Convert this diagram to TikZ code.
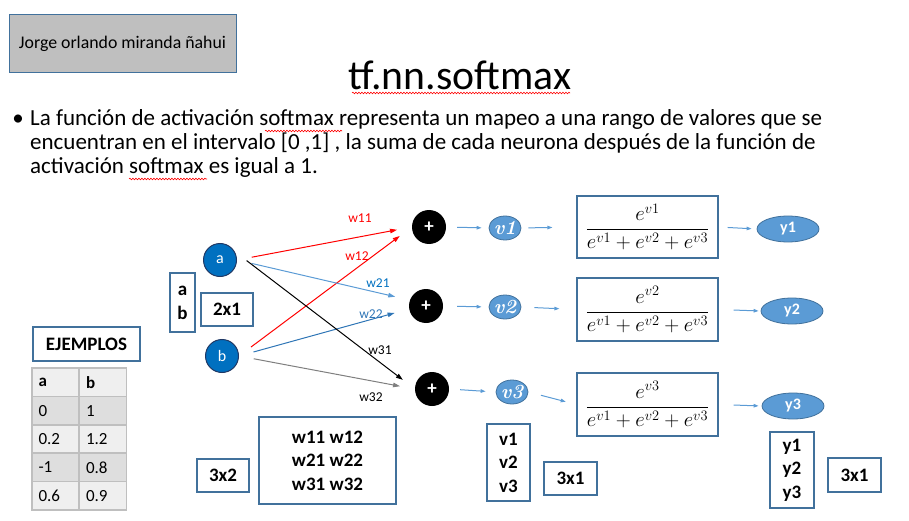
\documentclass[tikz,border=0pt]{standalone}
\usepackage[no-math]{fontspec}
\setmainfont{Carlito}
\newfontfamily\lmfont{Latin Modern Roman}
\usetikzlibrary{arrows.meta,shapes.geometric,decorations.pathmorphing}

\definecolor{boxline}{HTML}{41719C}
\definecolor{greyfill}{HTML}{BFBFBF}
\definecolor{nodeblue}{HTML}{0070C0}
\definecolor{darkrim}{HTML}{203864}
\definecolor{lightblue}{HTML}{5B9BD5}
\definecolor{midblue}{HTML}{2E75B6}
\definecolor{wred}{HTML}{FF0000}
\definecolor{wgrey}{HTML}{7F7F7F}
\definecolor{rowdark}{HTML}{DEDEDE}
\definecolor{rowlight}{HTML}{EFEFEF}
\definecolor{gridgrey}{HTML}{BFBFBF}

\tikzset{
  box/.style={draw=boxline, line width=1.2pt, inner sep=0pt, align=center,
    font=\fontsize{19}{23.5}\selectfont\bfseries},
  neuron/.style={circle, fill=nodeblue, draw=darkrim, line width=1pt,
    minimum size=33pt, inner sep=0pt, text=white, font=\fontsize{16}{16}\selectfont},
  sumnode/.style={circle, fill=black, minimum size=34pt, inner sep=0pt,
    text=white, font=\fontsize{19}{19}\selectfont\bfseries},
  oval/.style={ellipse, fill=lightblue, draw=boxline, line width=0.8pt,
    inner sep=0pt, text=white},
  vlabel/.style={oval, minimum width=32pt, minimum height=24pt,
    font=\lmfont\fontsize{20}{20}\selectfont\bfseries\itshape},
  ylabel/.style={oval, minimum width=62pt, minimum height=26pt,
    font=\fontsize{16}{16}\selectfont\bfseries},
  flow/.style={-{Triangle[length=5pt,width=3.5pt]}, draw=lightblue, line width=1pt},
  weight/.style={-{Triangle[length=7pt,width=4.5pt]}, line width=1pt,
    shorten <=15pt, shorten >=15pt},
  wlabel/.style={font=\fontsize{13.5}{13.5}\selectfont, inner sep=0pt},
  cell/.style={draw=gridgrey, line width=1.5pt, minimum height=28.4pt,
    text width=34pt, inner xsep=6.5pt, align=left, font=\fontsize{17}{17}\selectfont},
  spell/.style={draw=wred, line width=0.6pt,
    decorate, decoration={snake, amplitude=0.8pt, segment length=3pt}},
  softfrac/.style={box, font=\fontsize{19.5}{19.5}\selectfont},
  bodytext/.style={anchor=base west, inner sep=0pt, font=\fontsize{23}{23}\selectfont}
}

\begin{document}
\begin{tikzpicture}[x=1pt, y=-1pt]
\useasboundingbox (0,0) rectangle (909,521);

% author tag
\node[draw=boxline, fill=greyfill, line width=1pt, minimum width=227pt,
      minimum height=58pt, inner sep=0pt, font=\fontsize{17.8}{17.8}\selectfont]
  (author) at (122.5,44) {Jorge orlando miranda ñahui};

% title and description
\node[anchor=base, inner sep=0pt, font=\fontsize{41.7}{41.7}\selectfont]
  (title) at (460,90) {tf.nn.softmax};
\draw[spell] (352,93) -- (570,93);

\node[inner sep=0pt, font=\fontsize{23}{23}\selectfont] (dot) at (18,120) {\textbullet};
\node[bodytext] (line1) at (30,126)
  {La función de activación softmax representa un mapeo a una rango de valores que se};
\node[bodytext] (line2) at (30,150)
  {encuentran en el intervalo [0 ,1] , la suma de cada neurona después de la función de};
\node[bodytext] (line3) at (30,174)
  {activación softmax es igual a 1.};
\draw[spell] (265,131) -- (342,131);
\draw[spell] (129,179) -- (207,179);

% inputs
\node[neuron] (a) at (220,260) {a};
\node[neuron] (b) at (222,356) {b};
\node[box, minimum width=25pt, minimum height=59pt, font=\fontsize{19}{24}\selectfont\bfseries]
  (abvec) at (182.5,302.5) {a\\b};
\node[box, minimum width=52pt, minimum height=33pt] (dimin) at (227,309.5) {2x1};

% summation units
\node[sumnode] (p1) at (429,227) {+};
\node[sumnode] (p2) at (426,306) {+};
\node[sumnode] (p3) at (432,389) {+};

% weighted connections
\draw[weight, wred] (a.east) -- (p1.west);
\draw[weight, wred] (b.east) -- (p1.west);
\draw[weight, lightblue] (a.east) -- (p2.160);
\draw[weight, midblue] (b.east) -- (p2.190);
\draw[weight, black] (a.30) -- (p3.west);
\draw[weight, wgrey] (b.east) -- (p3.west);

\node[wlabel, text=wred] (l11) at (360,218) {w11};
\node[wlabel, text=wred] (l12) at (357,256) {w12};
\node[wlabel, text=nodeblue] (l21) at (378,283) {w21};
\node[wlabel, text=midblue] (l22) at (371,314) {w22};
\node[wlabel] (l31) at (380,350) {w31};
\node[wlabel] (l32) at (371,397) {w32};

% pre-activations
\node[vlabel] (v1) at (505,228) {v1};
\node[vlabel] (v2) at (505,307) {v2};
\node[vlabel] (v3) at (512,392) {v3};

% softmax terms
\node[softfrac, minimum width=141pt, minimum height=62pt] (s1) at (647.5,227)
  {$\displaystyle\frac{e^{v1}}{e^{v1}+e^{v2}+e^{v3}}$};
\node[softfrac, minimum width=141pt, minimum height=63pt] (s2) at (647.5,309.5)
  {$\displaystyle\frac{e^{v2}}{e^{v1}+e^{v2}+e^{v3}}$};
\node[softfrac, minimum width=141pt, minimum height=63pt] (s3) at (647.5,404.5)
  {$\displaystyle\frac{e^{v3}}{e^{v1}+e^{v2}+e^{v3}}$};

% outputs
\node[ylabel] (y1) at (788,229) {y1};
\node[ylabel] (y2) at (792,311) {y2};
\node[ylabel] (y3) at (793,406) {y3};

% flow arrows
\draw[flow, shorten <=11pt, shorten >=7pt] (p1.east) -- (v1.west);
\draw[flow, shorten <=7pt, shorten >=24pt] (v1.east) -- (s1.west);
\draw[flow, shorten <=14pt, shorten >=7pt] (p2.east) -- (v2.west);
\draw[flow, shorten <=13pt, shorten >=17pt] (v2.east) -- (s2.west);
\draw[flow, shorten <=11pt, shorten >=10pt] (p3.east) -- (v3.west);
\draw[flow, shorten <=13pt, shorten >=11pt] (v3.east) -- (s3.west);
\draw[flow, shorten <=9pt, shorten >=5pt] (s1.east) -- (y1.west);
\draw[flow, shorten <=15pt, shorten >=2pt] (s2.east) -- (y2.west);
\draw[flow, shorten <=15pt, shorten >=3pt] (s3.east) -- (y3.west);

% matrix shapes
\node[box, minimum width=52pt, minimum height=33pt] (dimw) at (223,475.5) {3x2};
\node[box, minimum width=137pt, minimum height=87pt] (wmat) at (327.5,460.5)
  {w11 w12\\w21 w22\\w31 w32};
\node[box, minimum width=43pt, minimum height=77pt] (vvec) at (508.5,462.5) {v1\\v2\\v3};
\node[box, minimum width=53pt, minimum height=33pt] (dimv) at (570.5,478.5) {3x1};
\node[box, minimum width=44pt, minimum height=76pt] (yvec) at (792,470) {y1\\y2\\y3};
\node[box, minimum width=53pt, minimum height=34pt] (dimy) at (854.5,475) {3x1};

% examples table
\node[box, minimum width=107pt, minimum height=34pt] (ejemplos) at (86.5,344) {EJEMPLOS};
\foreach \va/\vb/\rowc [count=\i from 0] in
  {{\bfseries a}/{\bfseries b}/rowlight, 0/1/rowdark, 0.2/1.2/rowlight,
   -1/0.8/rowdark, 0.6/0.9/rowlight} {
  \node[cell, fill=\rowc] (ta\i) at (55.5,382.2+28.4*\i) {\va};
  \node[cell, fill=\rowc] (tb\i) at (103,382.2+28.4*\i) {\vb};
}
\end{tikzpicture}
\end{document}
